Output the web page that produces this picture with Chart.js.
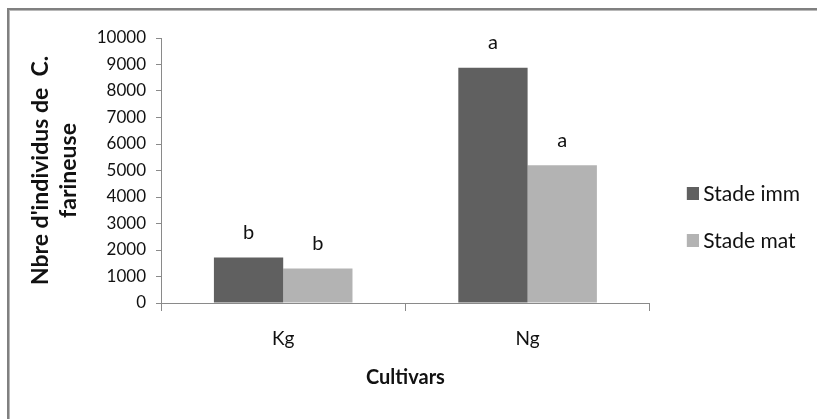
<!DOCTYPE html>
<html>
<head>
<meta charset="utf-8">
<script src="https://cdn.jsdelivr.net/npm/chart.js@4/dist/chart.umd.min.js"></script>
<style>
  html, body { margin: 0; padding: 0; background: #fff; }
  #wrap { position: relative; width: 817px; height: 419px; overflow: hidden; }
  #frame { position: absolute; left: 7px; top: 8px; width: 900px; height: 500px;
           border-left: 2px solid #808080; border-top: 2px solid #808080;
           box-shadow: inset 1px 1px 0 #b8b8b8; }
  canvas { position: absolute; left: 0; top: 0; }
</style>
</head>
<body>
<div id="wrap">
  <div id="frame"></div>
  <canvas id="chart" width="817" height="419"></canvas>
</div>
<script>
const cultivars = ['Kg', 'Ng'];
const stadeImm = [1720, 8880];
const stadeMat = [1300, 5200];
const lettersImm = ['b', 'a'];
const lettersMat = ['b', 'a'];
const yTicks = [0, 1000, 2000, 3000, 4000, 5000, 6000, 7000, 8000, 9000, 10000];

const font = 'Lato';
const darkGrey = '#606060';
const lightGrey = '#b3b3b3';

// petit carré de légende décalé vers la droite (laisse un blanc avant le carré)
function swatch(color) {
    const c = document.createElement('canvas');
    c.width = 29;
    c.height = 13;
    const g = c.getContext('2d');
    g.fillStyle = color;
    g.fillRect(17, 0, 12, 13);
    return c;
}

// lettres de significativité au-dessus des barres
const letterPlugin = {
    id: 'letters',
    afterDatasetsDraw(chart) {
        const ctx = chart.ctx;
        ctx.save();
        ctx.font = '20px ' + font;
        ctx.fillStyle = '#111';
        ctx.textAlign = 'center';
        ctx.textBaseline = 'middle';
        chart.data.datasets.forEach((ds, i) => {
            chart.getDatasetMeta(i).data.forEach((bar, j) => {
                ctx.fillText(ds.letters[j], bar.x, bar.y - 25);
            });
        });
        ctx.restore();
    }
};

function draw() {
    const ctx = document.getElementById('chart');
    new Chart(ctx, {
        type: 'bar',
        data: {
            labels: cultivars,
            datasets: [{
                label: 'Stade imm',
                data: stadeImm,
                letters: lettersImm,
                backgroundColor: darkGrey,
                pointStyle: swatch(darkGrey),
                borderWidth: 0
            }, {
                label: 'Stade mat',
                data: stadeMat,
                letters: lettersMat,
                backgroundColor: lightGrey,
                pointStyle: swatch(lightGrey),
                borderWidth: 0
            }]
        },
        options: {
            responsive: false,
            animation: false,
            layout: {
                padding: { left: 10, top: 38, right: 7, bottom: 0 }
            },
            datasets: {
                bar: { barPercentage: 1, categoryPercentage: 0.567 }
            },
            plugins: {
                tooltip: { enabled: false },
                legend: {
                    position: 'right',
                    align: 'start',
                    title: { display: true, text: '', padding: { top: 105 } },
                    labels: {
                        usePointStyle: true,
                        pointStyleWidth: 17,
                        boxHeight: 13,
                        padding: 26,
                        color: '#111',
                        font: { family: font, size: 21 }
                    }
                }
            },
            scales: {
                x: {
                    grid: { drawOnChartArea: false, tickLength: 8, color: '#8a8a8a' },
                    border: { color: '#8a8a8a' },
                    ticks: { padding: 16, color: '#111', font: { family: font, size: 19 } },
                    title: {
                        display: true,
                        text: 'Cultivars',
                        color: '#111',
                        font: { family: font, size: 20, weight: 'bold' },
                        padding: { top: 0, bottom: 29 }
                    },
                    afterFit: (s) => { s.height = 116; }
                },
                y: {
                    min: 0,
                    max: 10000,
                    afterBuildTicks: (s) => { s.ticks = yTicks.map(v => ({ value: v })); },
                    grid: { drawOnChartArea: false, tickLength: 5, color: '#8a8a8a' },
                    border: { color: '#8a8a8a' },
                    ticks: {
                        padding: 10,
                        color: '#111',
                        font: { family: font, size: 17 },
                        callback: (v) => String(v)
                    },
                    title: {
                        display: true,
                        text: ["Nbre d'individus de  C.", 'farineuse'],
                        color: '#111',
                        font: { family: font, size: 23, weight: 'bold', lineHeight: '28px' },
                        padding: { top: 17, bottom: 0 }
                    },
                    afterFit: (s) => { s.width = 151; }
                }
            }
        },
        plugins: [letterPlugin]
    });
}

Promise.all([
    document.fonts.load('17px Lato'),
    document.fonts.load('bold 20px Lato')
]).then(draw, draw);
</script>
</body>
</html>
